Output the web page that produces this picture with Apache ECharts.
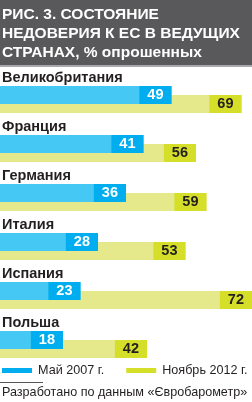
<!DOCTYPE html>
<html>
<head>
<meta charset="utf-8">
<script src="https://cdn.jsdelivr.net/npm/echarts@6/dist/echarts.min.js"></script>
<style>
  html, body { margin: 0; padding: 0; background: #fff; }
  #chart { width: 252px; height: 402px; }
</style>
</head>
<body>
<div id="chart"></div>
<script>
// данные
const countries = ['Великобритания', 'Франция', 'Германия', 'Италия', 'Испания', 'Польша'];
const may2007 = [49, 41, 36, 28, 23, 18];
const nov2012 = [69, 56, 59, 53, 72, 42];
const seriesNames = ['Май 2007 г.', 'Ноябрь 2012 г.'];

const font = '"Liberation Sans", Arial, sans-serif';
const ink = '#231f20';

const chart = echarts.init(document.getElementById('chart'));

const option = {
  animation: false,
  graphic: [
    // тёмная шапка
    { type: 'rect', shape: { x: 0, y: 0, width: 252, height: 65 }, style: { fill: '#59595b' }, z: -1 },
    { type: 'rect', shape: { x: 0, y: 65, width: 252, height: 2 }, style: { fill: '#a8a9ab' }, z: -1 },
    // короткая линия над источником
    { type: 'line', shape: { x1: 0, y1: 382.5, x2: 43, y2: 382.5 }, style: { stroke: '#555', lineWidth: 1 } }
  ],
  title: [
    {
      text: 'РИС. 3. СОСТОЯНИЕ\nНЕДОВЕРИЯ К ЕС В ВЕДУЩИХ\nСТРАНАХ, % опрошенных',
      left: 2,
      top: 5,
      padding: 0,
      textStyle: {
        color: '#fff',
        fontFamily: font,
        fontWeight: 'bold',
        fontSize: 15.5,
        lineHeight: 19
      }
    },
    {
      text: 'Разработано по данным «Євробарометр»',
      left: 2,
      top: 386,
      padding: 0,
      textStyle: { color: ink, fontFamily: font, fontWeight: 'normal', fontSize: 12.6 }
    }
  ],
  legend: {
    left: 2,
    top: 364,
    padding: 0,
    itemWidth: 30,
    itemHeight: 5,
    itemGap: 22,
    icon: 'rect',
    textStyle: { color: ink, fontFamily: font, fontSize: 12.6, padding: [0, 0, 0, 1] },
    data: [
      { name: seriesNames[0], itemStyle: { color: '#00aeef' } },
      { name: seriesNames[1], itemStyle: { color: '#d5df2a' } }
    ]
  },
  grid: { left: 0, right: 0, top: 75, bottom: 33 },
  xAxis: {
    type: 'value',
    min: 0,
    max: 72,
    show: false
  },
  yAxis: {
    type: 'category',
    inverse: true,
    data: countries,
    axisLine: { show: false },
    axisTick: { show: false },
    axisLabel: { show: false }
  },
  series: [
    {
      name: seriesNames[0],
      type: 'bar',
      data: may2007,
      barWidth: 18,
      barGap: '-50%',
      z: 3,
      itemStyle: { color: '#45c8f3' },
      label: {
        show: true,
        position: 'insideRight',
        distance: 0,
        color: '#fff',
        fontFamily: font,
        fontWeight: 'bold',
        fontSize: 14.5,
        backgroundColor: '#00aeef',
        padding: [0, 8],
        lineHeight: 18,
        height: 18
      }
    },
    {
      name: seriesNames[1],
      type: 'bar',
      data: nov2012,
      barWidth: 18,
      z: 2,
      itemStyle: { color: '#e5e88b' },
      label: {
        show: true,
        position: 'insideRight',
        distance: 0,
        color: ink,
        fontFamily: font,
        fontWeight: 'bold',
        fontSize: 14.5,
        backgroundColor: '#d5df2a',
        padding: [0, 8],
        lineHeight: 18,
        height: 18
      }
    },
    {
      // названия стран над полосами
      name: 'countries',
      type: 'custom',
      data: countries.map(c => [0, c]),
      encode: { x: 0, y: 1 },
      renderItem: (params, api) => {
        const p = api.coord([0, api.value(1)]);
        return {
          type: 'text',
          x: p[0] + 2,
          y: p[1] - 21.5,
          style: {
            text: countries[params.dataIndex],
            fill: ink,
            font: 'bold 14.5px "Liberation Sans", Arial, sans-serif',
            align: 'left',
            verticalAlign: 'middle'
          }
        };
      }
    }
  ]
};

chart.setOption(option);
</script>
</body>
</html>
